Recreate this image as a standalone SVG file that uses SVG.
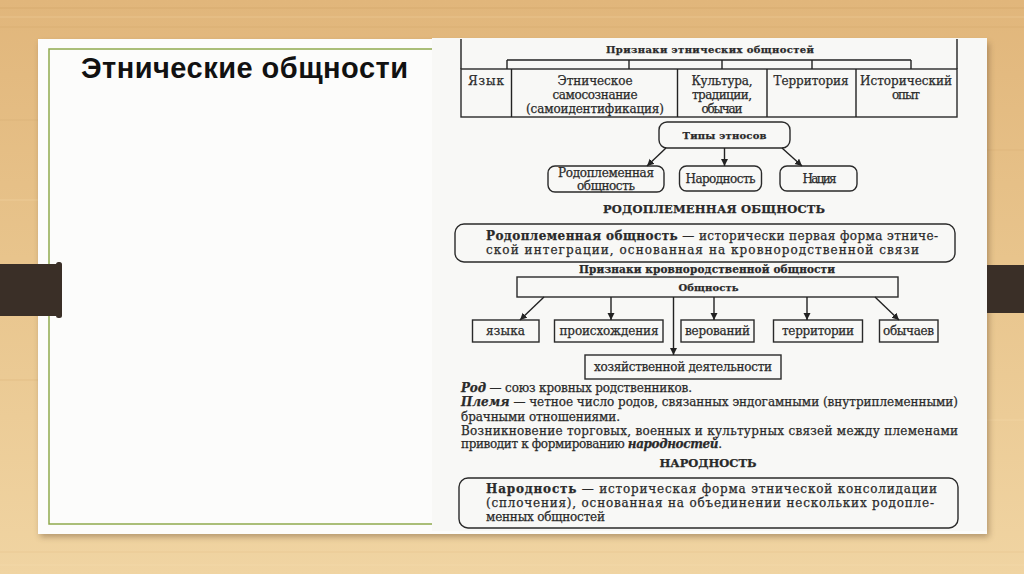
<svg xmlns="http://www.w3.org/2000/svg" width="1024" height="574" viewBox="0 0 1024 574">
<defs>
<linearGradient id="wood" x1="0" y1="0" x2="0" y2="1">
<stop offset="0" stop-color="#e1b67b"/>
<stop offset="0.45" stop-color="#e8c48c"/>
<stop offset="1" stop-color="#f0d4a2"/>
</linearGradient>
<filter id="shadow" x="-5%" y="-5%" width="110%" height="115%">
<feGaussianBlur stdDeviation="3"/>
</filter>
<marker id="ah" markerWidth="9" markerHeight="9" refX="7" refY="3.5" orient="auto" markerUnits="userSpaceOnUse">
<path d="M0,0 L7,3.5 L0,7 z" fill="#222"/>
</marker>
<style>
.t{font-family:"DejaVu Serif","Liberation Serif",serif;font-size:12px;fill:#2a2a2a;stroke:#2a2a2a;stroke-width:0.25}
.b{font-weight:bold}
.h{font-weight:bold;font-size:10px}
.c{text-anchor:middle}
.box{fill:none;stroke:#2a2a2a;stroke-width:1.4}
.ln{fill:none;stroke:#222;stroke-width:1.4}
.arr{fill:none;stroke:#222;stroke-width:1.4;marker-end:url(#ah)}
.streak{stroke-width:1.5;opacity:0.25}
</style>
</defs>

<!-- background wood -->
<g id="background">
<rect x="0" y="0" width="1024" height="574" fill="url(#wood)"/>
<g class="streak">
<line x1="0" y1="8" x2="1024" y2="8" stroke="#c99a5c"/>
<line x1="0" y1="17" x2="1024" y2="17" stroke="#f3d7a6"/>
<line x1="0" y1="27" x2="1024" y2="27" stroke="#cfa266"/>
<line x1="0" y1="120" x2="38" y2="120" stroke="#d1a86e"/>
<line x1="0" y1="200" x2="38" y2="200" stroke="#f5dbab"/>
<line x1="0" y1="380" x2="38" y2="380" stroke="#d3ab72"/>
<line x1="987" y1="150" x2="1024" y2="150" stroke="#d3ab72"/>
<line x1="987" y1="420" x2="1024" y2="420" stroke="#f5dbab"/>
<line x1="0" y1="552" x2="1024" y2="552" stroke="#e2bb82"/>
<line x1="0" y1="565" x2="1024" y2="565" stroke="#f6ddb0"/>
</g>
</g>

<!-- slide -->
<g id="slide">
<rect x="40" y="43" width="949" height="494" fill="#6b5030" opacity="0.45" filter="url(#shadow)"/>
<rect x="38" y="39" width="949" height="495" fill="#fcfcfb"/>
<path d="M432,49 H49 V524 H432" fill="none" stroke="#8fa94e" stroke-width="1.5"/>
<text x="81" y="78" font-family="'Liberation Sans',Arial,sans-serif" font-size="29" font-weight="bold" fill="#111" textLength="327">Этнические общности</text>
</g>

<!-- bars -->
<g id="bars">
<rect x="0" y="264" width="59" height="52" fill="#3a2f27"/>
<rect x="56" y="262" width="6" height="56" rx="2.5" fill="#3a2f27"/>
<rect x="987" y="265" width="37" height="48" fill="#3a2f27"/>
</g>

<!-- scanned page -->
<g id="page">
<rect x="432" y="38" width="555" height="493" fill="#f8f8f6"/>

<g id="table">
<text class="t h c" x="710" y="53" textLength="208">Признаки этнических общностей</text>
<line class="ln" x1="461" y1="39" x2="461" y2="69"/>
<line class="ln" x1="957" y1="39" x2="957" y2="69"/>
<rect class="box" x="461" y="69" width="496" height="48"/>
<line class="ln" x1="511.5" y1="69" x2="511.5" y2="117"/>
<line class="ln" x1="677.5" y1="69" x2="677.5" y2="117"/>
<line class="ln" x1="767" y1="69" x2="767" y2="117"/>
<line class="ln" x1="856" y1="69" x2="856" y2="117"/>
</g>
<g id="cell-lang"><text class="t c" x="486" y="85" textLength="36">Язык</text></g>
<g id="cell-self">
<text class="t c" x="595" y="85" textLength="75">Этническое</text>
<text class="t c" x="595" y="99" textLength="85">самосознание</text>
<text class="t c" x="595" y="113" textLength="138">(самоидентификация)</text>
</g>
<g id="cell-culture">
<text class="t c" x="722" y="85" textLength="61">Культура,</text>
<text class="t c" x="722" y="99" textLength="60">традиции,</text>
<text class="t c" x="722" y="113" textLength="41">обычаи</text>
</g>
<g id="cell-territory"><text class="t c" x="811" y="85" textLength="75">Территория</text></g>
<g id="cell-history">
<text class="t c" x="906" y="85" textLength="92">Исторический</text>
<text class="t c" x="906" y="99" textLength="28">опыт</text>
</g>

<g id="types">
<rect class="box" x="659" y="122" width="131" height="26" rx="8"/>
<text class="t h c" x="724.5" y="139" textLength="84">Типы этносов</text>
</g>
<g id="type-tribal">
<rect class="box" x="548" y="166" width="116" height="26" rx="7"/>
<text class="t c" x="606" y="177" textLength="96">Родоплеменная</text>
<text class="t c" x="606" y="190" textLength="58">общность</text>
</g>
<g id="type-narodnost">
<rect class="box" x="679.5" y="166" width="82" height="25" rx="7"/>
<text class="t c" x="720.5" y="182.5" textLength="70">Народность</text>
</g>
<g id="type-nation">
<rect class="box" x="780" y="166" width="77" height="25" rx="7"/>
<text class="t c" x="819.5" y="182.5" textLength="34">Нация</text>
</g>

<text class="t h c" x="714" y="213" style="font-size:11.5px" textLength="222">РОДОПЛЕМЕННАЯ ОБЩНОСТЬ</text>

<g id="def-tribal">
<rect class="box" x="455" y="224" width="500" height="38" rx="9"/>
<text class="t" x="486" y="240" textLength="452"><tspan class="b">Родоплеменная общность</tspan> — исторически первая форма этниче-</text>
<text class="t" x="486" y="254" textLength="433">ской интеграции, основанная на кровнородственной связи</text>
</g>

<text class="t h c" x="707" y="273" style="font-size:10.5px" textLength="256">Признаки кровнородственной общности</text>

<g id="commonality">
<rect class="box" x="517" y="277" width="381" height="20"/>
<text class="t h c" x="708.5" y="291" textLength="60">Общность</text>
</g>
<g id="f-lang">
<rect class="box" x="472.5" y="320" width="66.5" height="22"/>
<text class="t c" x="505.5" y="335" textLength="39">языка</text>
</g>
<g id="f-origin">
<rect class="box" x="554.5" y="320" width="108.5" height="22"/>
<text class="t c" x="609" y="335" textLength="99">происхождения</text>
</g>
<g id="f-belief">
<rect class="box" x="681" y="320" width="73" height="22"/>
<text class="t c" x="717.5" y="335" textLength="65">верований</text>
</g>
<g id="f-territory">
<rect class="box" x="773.5" y="320" width="89" height="22"/>
<text class="t c" x="818" y="335" textLength="72">территории</text>
</g>
<g id="f-custom">
<rect class="box" x="879.5" y="320" width="58.5" height="22"/>
<text class="t c" x="908.5" y="335" textLength="51">обычаев</text>
</g>
<g id="f-economy">
<rect class="box" x="585" y="355" width="196" height="24"/>
<text class="t c" x="683" y="371" textLength="178">хозяйственной деятельности</text>
</g>

<g id="notes">
<text class="t" x="461" y="392" textLength="231"><tspan class="b" font-style="italic">Род</tspan> — союз кровных родственников.</text>
<text class="t" x="461" y="406" textLength="497"><tspan class="b" font-style="italic">Племя</tspan> — четное число родов, связанных эндогамными (внутриплеменными)</text>
<text class="t" x="461" y="421" textLength="159">брачными отношениями.</text>
<text class="t" x="461" y="435" textLength="497">Возникновение торговых, военных и культурных связей между племенами</text>
<text class="t" x="461" y="448" textLength="261">приводит к формированию <tspan class="b" font-style="italic">народностей</tspan>.</text>
</g>

<text class="t h c" x="708" y="467" style="font-size:11.5px" textLength="97">НАРОДНОСТЬ</text>

<g id="def-narodnost">
<rect class="box" x="459" y="478" width="499" height="50" rx="9"/>
<text class="t" x="486" y="493" textLength="451"><tspan class="b">Народность</tspan> — историческая форма этнической консолидации</text>
<text class="t" x="486" y="507" textLength="448">(сплочения), основанная на объединении нескольких родопле-</text>
<text class="t" x="486" y="521" textLength="119">менных общностей</text>
</g>
</g>

<g id="connectors">
<line class="ln" x1="507" y1="60" x2="911" y2="60"/>
<line class="ln" x1="507" y1="60" x2="507" y2="69"/>
<line class="ln" x1="629" y1="60" x2="629" y2="69"/>
<line class="ln" x1="722" y1="60" x2="722" y2="69"/>
<line class="ln" x1="812" y1="60" x2="812" y2="69"/>
<line class="ln" x1="911" y1="60" x2="911" y2="69"/>
<line class="arr" x1="666" y1="148" x2="647" y2="166"/>
<line class="arr" x1="724.5" y1="148" x2="724.5" y2="166"/>
<line class="arr" x1="782" y1="148" x2="802" y2="166"/>
<line class="arr" x1="544" y1="297" x2="520" y2="320"/>
<line class="arr" x1="611" y1="297" x2="611" y2="320"/>
<line class="arr" x1="673.5" y1="297" x2="673.5" y2="355"/>
<line class="arr" x1="714" y1="297" x2="714" y2="320"/>
<line class="arr" x1="807" y1="297" x2="807" y2="320"/>
<line class="arr" x1="875" y1="297" x2="899" y2="320"/>
</g>
</svg>
